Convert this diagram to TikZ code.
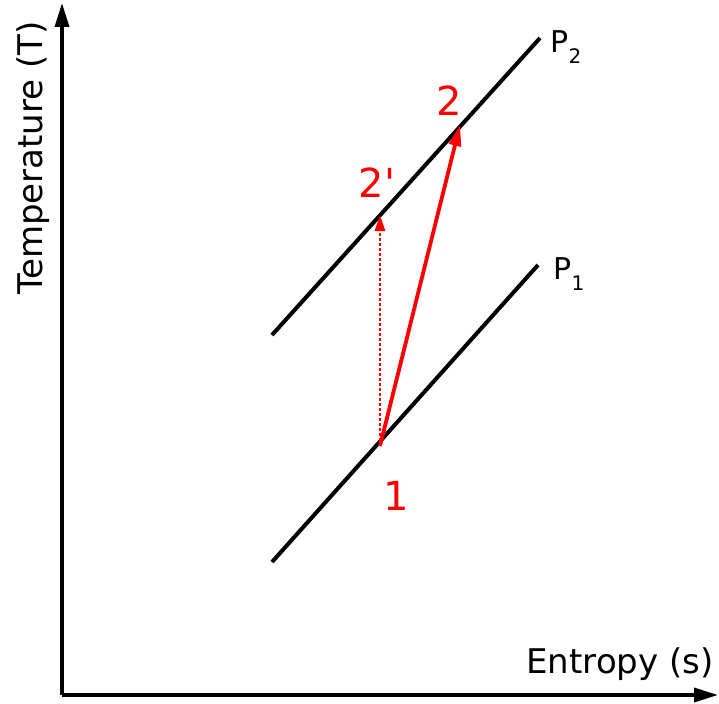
\documentclass[tikz,border=0pt]{standalone}
\usepackage{fontspec}
\setmainfont{DejaVu Sans}
\usetikzlibrary{arrows.meta}
\definecolor{redc}{RGB}{255,0,0}
\tikzset{
  axis/.style={line width=3.5pt, -{Triangle[length=24pt,width=14pt]}},
  isobar/.style={line width=4pt, black},
  proc/.style={line width=3.8pt, redc, -{Triangle[length=21pt,width=12pt]}},
  ideal/.style={line width=2.8pt, redc, dash pattern=on 3pt off 2pt, -{Triangle[length=16pt,width=10pt]}},
  redlab/.style={text=redc, font=\fontsize{40}{46}\selectfont},
  axlab/.style={font=\fontsize{34}{38}\selectfont},
  plab/.style={font=\fontsize{30}{34}\selectfont}
}
\newcommand{\psub}[1]{P\raisebox{-0.35em}{\fontsize{20}{22}\selectfont #1}}
\begin{document}
\begin{tikzpicture}[x=1pt,y=-1pt]
\useasboundingbox (0,0) rectangle (719,703);
\coordinate (o) at (62,695);
\coordinate (ytop) at (62,3);
\coordinate (xend) at (718,695);
\draw[axis] (o) -- (ytop);
\draw[axis] (o) -- (xend);
\node[axlab, rotate=90] (tl) at (33,158) {Temperature (T)};
\node[axlab] (el) at (620,664) {Entropy (s)};
\coordinate (p2a) at (272,335);
\coordinate (p2b) at (540,38);
\coordinate (p1a) at (272,562);
\coordinate (p1b) at (538,265);
\draw[isobar] (p2a) -- (p2b);
\draw[isobar] (p1a) -- (p1b);
\node[plab] (P2) at (566,47) {\psub{2}};
\node[plab] (P1) at (569,274) {\psub{1}};
\coordinate (s1) at (380,446);
\coordinate (s2) at (460,125);
\coordinate (s2p) at (380,215);
\draw[ideal] (s1) -- (s2p);
\draw[proc] (s1) -- (s2);
\node[redlab] (l2) at (449,101) {2};
\node[redlab] (l2p) at (377,183) {2\textquotesingle};
\node[redlab] (l1) at (396,496) {1};
\end{tikzpicture}
\end{document}
